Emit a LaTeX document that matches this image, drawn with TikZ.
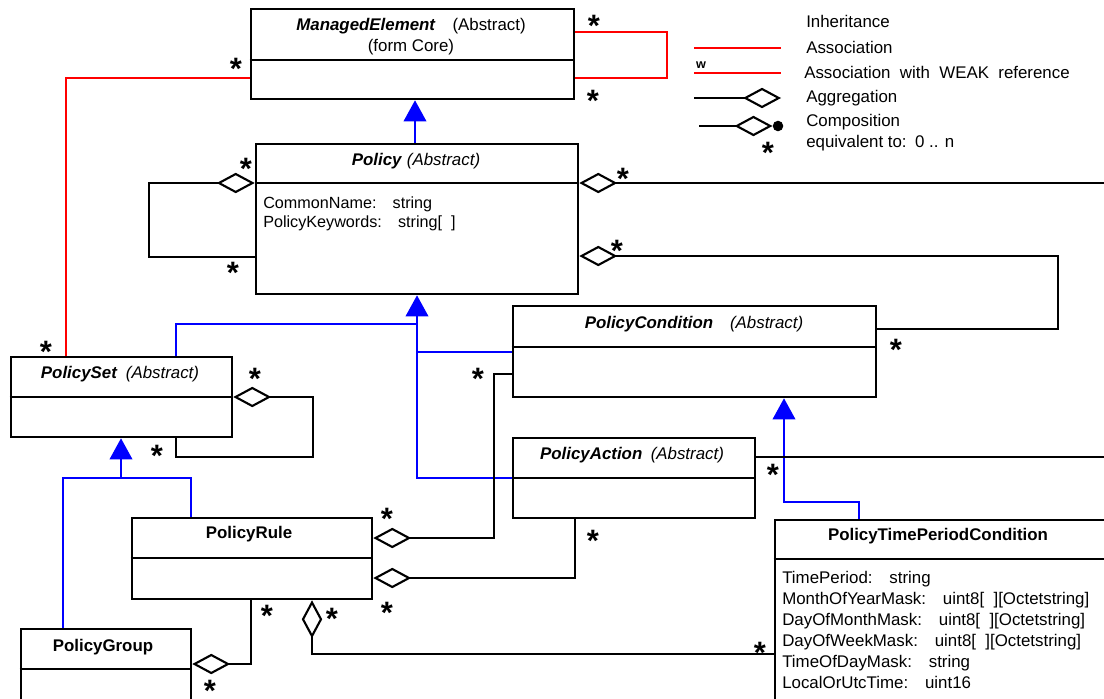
\documentclass[tikz,border=0pt]{standalone}
\usepackage{fontspec}
\setmainfont{Liberation Sans}
\usetikzlibrary{arrows.meta}
\definecolor{umlred}{HTML}{FF0000}
\definecolor{umlblue}{HTML}{0000FF}
\newcommand{\mstar}{\raisebox{-0.33em}[0.38em][0pt]{*}}

\begin{document}
\begin{tikzpicture}[
        x=0.025cm, y=-0.025cm,
        >={Triangle[length=15pt,width=16pt]},
        every node/.style={font=\fontsize{11.5}{14}\selectfont},
        classbox/.style={draw, line width=1.8pt, inner sep=0pt},
        classtitle/.style={font=\fontsize{12}{15}\selectfont, align=center, inner sep=0pt},
        attrs/.style={font=\fontsize{11.5}{14}\selectfont, align=left, anchor=north west, inner sep=0pt},
        mult/.style={font=\fontsize{22}{22}\selectfont\bfseries, inner sep=0pt},
        plain/.style={line width=1.5pt},
        assoc/.style={draw=umlred, line width=1.5pt},
        inherit/.style={->, color=umlblue, line width=1.6pt},
        inhline/.style={color=umlblue, line width=1.6pt},
        aggr/.style={{Diamond[open,length=27pt,width=14.5pt]}-, line width=1.5pt},
        legendtext/.style={font=\fontsize{12}{15}\selectfont, anchor=west, inner sep=0pt, align=left}
    ]
        \useasboundingbox (0,0) rectangle (1104,698);
        \clip (0,0) rectangle (1104,698);

        % classes
        \node[classbox, minimum width=8.075cm, minimum height=2.25cm] (me) at (412.5,54) {};
        \node[classtitle] (metitle) at (411,37) {\textbf{\textit{ManagedElement}}\quad(Abstract)\\(form Core)};
        \draw[plain] (me.west |- 0,60) -- (me.east |- 0,60);

        \node[classbox, minimum width=8.05cm, minimum height=3.75cm] (pol) at (417,219) {};
        \node[classtitle] (poltitle) at (416,161) {\textbf{\textit{Policy}} \textit{(Abstract)}};
        \draw[plain] (pol.west |- 0,183) -- (pol.east |- 0,183);
        \node[attrs] (polattr) at (263,196) {CommonName:\quad string\\PolicyKeywords:\quad string[\ \ ]};

        \node[classbox, minimum width=5.525cm, minimum height=2cm] (ps) at (121.5,397) {};
        \node[classtitle] (pstitle) at (120,374) {\textbf{\textit{PolicySet}}\enspace\textit{(Abstract)}};
        \draw[plain] (ps.west |- 0,397) -- (ps.east |- 0,397);

        \node[classbox, minimum width=9.075cm, minimum height=2.275cm] (pc) at (694.5,351.5) {};
        \node[classtitle] (pctitle) at (694,324) {\textbf{\textit{PolicyCondition}}\quad\textit{(Abstract)}};
        \draw[plain] (pc.west |- 0,347) -- (pc.east |- 0,347);

        \node[classbox, minimum width=6.05cm, minimum height=2cm] (pa) at (634,478) {};
        \node[classtitle] (patitle) at (632,455) {\textbf{\textit{PolicyAction}}\enspace\textit{(Abstract)}};
        \draw[plain] (pa.west |- 0,478) -- (pa.east |- 0,478);

        \node[classbox, minimum width=6cm, minimum height=2.025cm] (pr) at (252,558.5) {};
        \node[classtitle] (prtitle) at (249,534) {\textbf{PolicyRule}};
        \draw[plain] (pr.west |- 0,558) -- (pr.east |- 0,558);

        \node[classbox, minimum width=4.25cm, minimum height=2cm] (pg) at (106,669) {};
        \node[classtitle] (pgtitle) at (103,647) {\textbf{PolicyGroup}};
        \draw[plain] (pg.west |- 0,669) -- (pg.east |- 0,669);

        \node[classbox, minimum width=8.625cm, minimum height=4.75cm] (ptpc) at (947.5,615) {};
        \node[classtitle] (ptpctitle) at (938,536) {\textbf{PolicyTimePeriodCondition}};
        \draw[plain] (ptpc.west |- 0,559) -- (ptpc.east |- 0,559);
        \node[attrs, font=\fontsize{12}{15}\selectfont] (ptpcattr) at (782,571) {TimePeriod:\quad string\\
            MonthOfYearMask:\quad uint8[\ \ ][Octetstring]\\
            DayOfMonthMask:\quad uint8[\ \ ][Octetstring]\\
            DayOfWeekMask:\quad uint8[\ \ ][Octetstring]\\
            TimeOfDayMask:\quad string\\
            LocalOrUtcTime:\quad uint16};

        % inheritance
        \coordinate (polfork) at (417,324);
        \coordinate (psfork) at (121,478);
        \coordinate (pcfork) at (784,502);
        \draw[inherit] (pol.north -| 415,0) -- (me.south -| 415,0);
        \draw[inherit] (ps.north -| 176,0) |- (polfork) -- (pol.south -| polfork);
        \draw[inhline] (pa.west |- 0,478) -| (polfork);
        \draw[inhline] (pc.west |- 0,352) -- (polfork |- 0,352);
        \draw[inherit] (pr.north -| 191,0) |- (psfork) -- (ps.south -| psfork);
        \draw[inhline] (pg.north -| 63,0) |- (psfork);
        \draw[inherit] (ptpc.north -| 859,0) |- (pcfork) -- (pc.south -| pcfork);

        % associations
        \draw[assoc] (me.east |- 0,32) -- ++(92,0) |- (me.east |- 0,78);
        \draw[assoc] (me.west |- 0,78) -| (ps.north -| 66,0);

        % aggregations
        \coordinate (rimA) at (1110,183);
        \coordinate (rimB) at (1110,457);
        \draw[aggr] (pol.west |- 0,183) -- ++(-106,0) |- (pol.west |- 0,257);
        \draw[aggr] (pol.east |- 0,183) -- (rimA);
        \draw[aggr] (pol.east |- 0,256) -- ++(479,0) |- (pc.east |- 0,329);
        \draw[aggr] (ps.east |- 0,397) -- ++(80,0) -- ++(0,60) -| (ps.south -| 176,0);
        \draw[aggr] (pr.east |- 0,538) -- ++(121,0) |- (pc.west |- 0,374);
        \draw[aggr] (pr.east |- 0,578) -| (pa.south -| 575,0);
        \draw[aggr] (pg.east |- 0,664) -| (pr.south -| 251,0);
        \draw[aggr] (pr.south -| 312,0) |- (ptpc.west |- 0,654);
        \draw[plain] (pa.east |- 0,457) -- (rimB);

        % multiplicities
        \foreach \p [count=\i] in {(594,20),(593,95),(236,63),(46,346),(246,163),(233,267),
            (623,173),(617,245),(896,344),(478,373),(255,373),(157,450),(773,469),(593,535),
            (387,513),(387,607),(267,610),(332,613),(210,685),(760,647),(768,147)}
            \node[mult] (mult\i) at \p {\mstar};

        % legend
        \node[legendtext] (lgInh) at (806,21) {Inheritance};
        \node[legendtext] (lgAssoc) at (806,47) {Association};
        \node[legendtext] (lgWeak) at (804,72) {Association\ \ with\ \ WEAK\ \ reference};
        \node[legendtext] (lgAggr) at (806,98) {Aggregation};
        \node[legendtext] (lgComp) at (806,133) {Composition\\equivalent to:\enspace 0 .. n};
        \coordinate (lgA1) at (694,48);
        \coordinate (lgA2) at (781,48);
        \coordinate (lgW1) at (694,73);
        \coordinate (lgW2) at (781,73);
        \coordinate (lgG1) at (694,98);
        \coordinate (lgG2) at (781,98);
        \coordinate (lgC1) at (699,126);
        \node[circle, fill, inner sep=0pt, minimum size=7.5pt] (lgdot) at (778,126) {};
        \node[font=\fontsize{9}{9}\selectfont\bfseries, inner sep=0pt] (lgw) at (701,65) {w};
        \draw[assoc] (lgA1) -- (lgA2);
        \draw[assoc] (lgW1) -- (lgW2);
        \draw[line width=1.5pt, -{Diamond[open,length=27pt,width=14.5pt]}] (lgG1) -- (lgG2);
        \draw[line width=1.5pt, -{Diamond[open,length=27pt,width=14.5pt]}] (lgC1) -- (lgdot.west);
\end{tikzpicture}
\end{document}
